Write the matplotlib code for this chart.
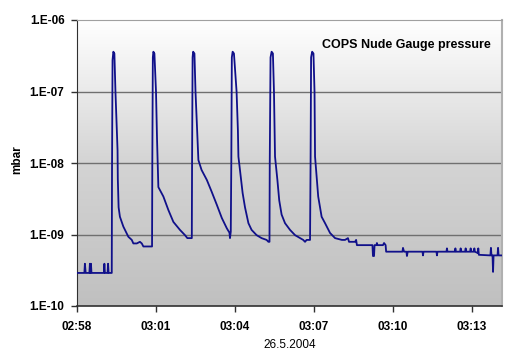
import numpy as np
import matplotlib
matplotlib.use("Agg")
import matplotlib.pyplot as plt
from matplotlib.colors import LinearSegmentedColormap

# minutes after 02:58 and gauge pressure (mbar)
minutes = [
    0.00, 0.28, 0.30, 0.33, 0.47, 0.49, 0.51, 0.53, 0.55, 1.02, 1.04, 1.06, 1.16, 1.18, 1.20, 1.32,
    1.33, 1.35, 1.38, 1.42, 1.46, 1.54, 1.55, 1.58, 1.63, 1.76, 1.95, 2.08, 2.14, 2.27, 2.39, 2.46, 2.52, 2.84,
    2.85, 2.86, 2.88, 2.90, 2.94, 3.00, 3.04, 3.07, 3.09, 3.28, 3.47, 3.66, 3.91, 4.10, 4.19, 4.36,
    4.37, 4.39, 4.41, 4.46, 4.50, 4.61, 4.73, 4.93, 5.11, 5.31, 5.50, 5.69, 5.79, 5.81, 5.84,
    5.86, 5.88, 5.91, 5.96, 6.06, 6.11, 6.13, 6.19, 6.29, 6.38, 6.51, 6.63, 6.82, 7.01, 7.20, 7.27, 7.31,
    7.32, 7.35, 7.39, 7.44, 7.48, 7.52, 7.61, 7.68, 7.77, 7.90, 8.09, 8.28, 8.47, 8.59, 8.66, 8.72, 8.85,
    8.87, 8.89, 8.93, 8.98, 9.02, 9.04, 9.10, 9.16, 9.29, 9.42, 9.61, 9.80, 10.06, 10.18, 10.29, 10.33,
    10.56, 10.60, 10.63, 11.22, 11.24, 11.28, 11.30, 11.37, 11.39, 11.41, 11.62, 11.66, 11.72, 11.74,
    12.36, 12.38, 12.42, 12.51, 12.53, 12.56, 13.12, 13.14, 13.16, 13.65, 13.67, 13.69,
    14.03, 14.05, 14.07, 14.35, 14.37, 14.39, 14.55, 14.57, 14.59, 14.74, 14.76, 14.78,
    14.93, 14.95, 14.97, 15.07, 15.09, 15.11, 15.22, 15.24, 15.26, 15.70, 15.72, 15.74,
    15.78, 15.80, 15.82, 15.97, 15.99, 16.01, 16.14,
]
pressure = [
    2.9e-10, 2.9e-10, 3.9e-10, 2.9e-10, 2.9e-10, 3.9e-10, 2.9e-10, 3.9e-10, 2.9e-10, 2.9e-10, 3.9e-10, 2.9e-10,
    2.9e-10, 3.9e-10, 2.9e-10, 2.9e-10,
    8e-9, 2.75e-7, 3.6e-7, 3.4e-7, 1.0e-7, 1.5e-8, 6e-9, 2.4e-9, 1.77e-9, 1.29e-9, 9.3e-10, 8.4e-10, 7.5e-10,
    7.5e-10, 7.9e-10, 7.5e-10, 6.8e-10, 6.8e-10,
    6.8e-10, 1e-8, 3.0e-7, 3.6e-7, 3.4e-7, 1e-7, 2.1e-8, 8e-9, 4.6e-9, 3.4e-9, 2.2e-9, 1.5e-9, 1.16e-9,
    9.8e-10, 8.9e-10, 8.9e-10,
    1e-8, 3e-7, 3.6e-7, 3.4e-7, 1e-7, 1.1e-8, 8e-9, 5.8e-9, 4e-9, 2.6e-9, 1.7e-9, 1.22e-9, 1.06e-9, 8.9e-10, 1.1e-9,
    1e-8, 3e-7, 3.6e-7, 3.4e-7, 1e-7, 2.9e-8, 1.23e-8, 8e-9, 3.8e-9, 2.4e-9, 1.44e-9, 1.16e-9, 9.8e-10, 8.9e-10,
    8.4e-10, 7.9e-10, 7.9e-10,
    1e-8, 3e-7, 3.6e-7, 3.4e-7, 1e-7, 1.23e-8, 5.8e-9, 3.0e-9, 1.9e-9, 1.44e-9, 1.16e-9, 9.8e-10, 8.9e-10,
    8.4e-10, 7.9e-10, 8.4e-10, 8.4e-10,
    1e-8, 3e-7, 3.6e-7, 3.4e-7, 1e-7, 1.23e-8, 6.4e-9, 3.4e-9, 1.77e-9, 1.44e-9, 1.05e-9, 8.9e-10, 8.4e-10,
    8.4e-10, 8.9e-10, 7.9e-10,
    7.9e-10, 8.4e-10, 7.1e-10, 7.1e-10, 5.0e-10, 5.0e-10, 7.1e-10, 7.1e-10, 7.6e-10, 7.1e-10, 7.1e-10, 7.6e-10,
    7.1e-10, 5.75e-10,
    5.75e-10, 6.5e-10, 5.75e-10, 5.75e-10, 5.0e-10, 5.75e-10, 5.75e-10, 5.1e-10, 5.75e-10, 5.75e-10, 5.1e-10, 5.75e-10,
    5.75e-10, 6.4e-10, 5.75e-10, 5.75e-10, 6.4e-10, 5.75e-10, 5.75e-10, 6.4e-10, 5.75e-10, 5.75e-10, 6.4e-10, 5.75e-10,
    5.75e-10, 6.4e-10, 5.75e-10, 5.75e-10, 6.4e-10, 5.75e-10, 5.5e-10, 6.4e-10, 5.2e-10, 5.1e-10, 6.5e-10, 5.1e-10,
    5.1e-10, 3.0e-10, 5.1e-10, 5.1e-10, 6.5e-10, 5.1e-10, 5.1e-10,
]

tick_minutes = [0, 3, 6, 9, 12, 15]
tick_labels = ["02:58", "03:01", "03:04", "03:07", "03:10", "03:13"]
y_ticks = [1e-10, 1e-9, 1e-8, 1e-7, 1e-6]
y_labels = ["1.E-10", "1.E-09", "1.E-08", "1.E-07", "1.E-06"]

plt.rcParams['font.family'] = ['Liberation Sans', 'DejaVu Sans']

fig = plt.figure(figsize=(5.3, 3.63), dpi=100)
ax = fig.add_axes([77/530, 1-306/363, (502-77)/530, (306-20)/363])

# gradient background, white at top to gray at bottom
cmap = LinearSegmentedColormap.from_list("bg", ["#c0c0c0", "#d4d4d4", "#ffffff"])
grad = np.linspace(0, 1, 256).reshape(-1, 1)
ax.imshow(grad, cmap=cmap, aspect="auto", extent=[0, 1, 0, 1], origin="lower",
          transform=ax.transAxes, zorder=0)

ax.set_yscale("log")
ax.set_ylim(1e-10, 1e-6)
ax.set_xlim(0, 16.14)

for yv in y_ticks[1:-1]:
    ax.axhline(yv, color="#707070", lw=1.0, zorder=1)

ax.plot(minutes, pressure, color="#10108a", lw=1.3, zorder=3)

ax.set_xticks(tick_minutes)
ax.set_xticklabels(tick_labels, fontsize=8.5, fontweight="bold")
ax.set_yticks(y_ticks)
ax.set_yticklabels(y_labels, fontsize=8.5, fontweight="bold")
ax.yaxis.set_minor_locator(matplotlib.ticker.NullLocator())
ax.tick_params(axis="both", direction="out", length=4, width=1, color="#303030", pad=5)
ax.tick_params(axis="x", pad=7)

ax.spines["left"].set_color("#303030")
ax.spines["bottom"].set_color("#303030")
ax.spines["bottom"].set_linewidth(1.2)
ax.spines["top"].set_color("#a0a0a0")
ax.spines["right"].set_color("#b0b0b0")
ax.spines["right"].set_linewidth(1.5)

ax.text(0.774, 0.913, "COPS Nude Gauge pressure", transform=ax.transAxes,
        ha="center", va="center", fontsize=9, fontweight="bold", zorder=4)

fig.text(17/530, 1-160/363, "mbar", rotation=90, ha="center", va="center",
         fontsize=8.5, fontweight="bold")
fig.text(290/530, 1-345/363, "26.5.2004", ha="center", va="center", fontsize=8.5)

fig.savefig("out.png", dpi=100)
